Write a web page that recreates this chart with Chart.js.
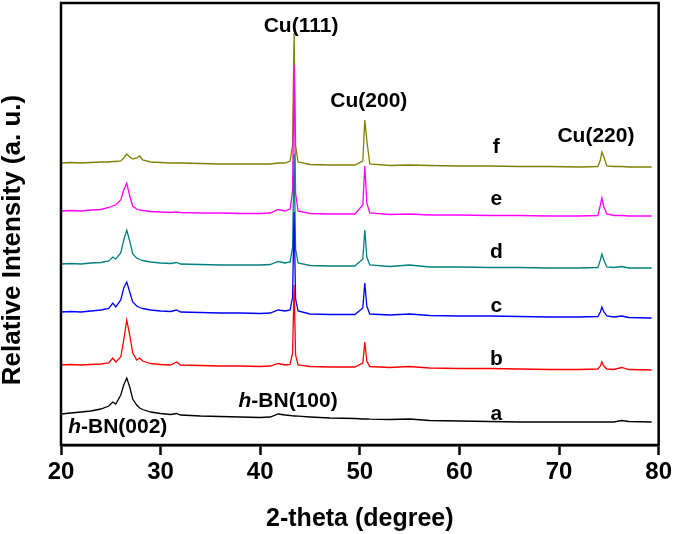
<!DOCTYPE html>
<html>
<head>
<meta charset="utf-8">
<script src="https://cdn.jsdelivr.net/npm/chart.js@4.4.0/dist/chart.umd.min.js"></script>
<style>
  html, body { margin: 0; padding: 0; background: #fff; }
  canvas { display: block; }
</style>
</head>
<body>
<canvas id="xrd" width="675" height="534"></canvas>
<script>
// 2-theta grid shared by all patterns
const twoTheta = [20, 21, 22, 23, 24, 24.8, 25.2, 25.5, 26.0, 26.3,
    26.6, 26.9, 27.2, 27.6, 27.9, 28.2, 29, 30, 31, 31.6,
    32, 34, 36, 38, 40, 41, 41.8, 42.5,
    43.0, 43.25, 43.4, 43.55, 43.8,
    45, 47, 49.5,
    50.3, 50.5, 50.7, 51.0,
    53, 55, 57, 60, 63, 66, 69,
    72, 73.9, 74.15, 74.3, 74.5, 74.8,
    75.5, 76.3, 77, 79.3];

// stacked intensities (offset already included), arbitrary units
const intensityA = [31, 32, 33, 34, 36, 39, 43, 41, 50, 60,
    67, 58, 46, 40, 37, 35.5, 33, 31.5, 30.5, 31.5,
    30, 29, 28.5, 28, 27.5, 28, 31, 30,
    29.5, 29.2, 29, 29, 28.8,
    28, 27, 26.5,
    26, 26, 26, 25.8,
    25.5, 26, 24.5, 24, 23.5, 23, 23,
    23, 23, 23, 23, 23, 23,
    23, 24.5, 23.5, 23];
const intensityB = [80, 80.5, 80, 80.5, 81, 82, 87, 83, 88, 105,
    125, 110, 92, 85, 87, 84, 81.5, 80.5, 80, 83,
    80, 79.5, 79, 79, 78.5, 79, 81.5, 80,
    80.5, 92, 160, 90, 80,
    78.5, 78, 78,
    82, 103, 84, 78.5,
    77.5, 78.5, 77, 76.5, 76.5, 76, 75.5,
    75.5, 76, 79, 83, 79, 76,
    75.5, 77.5, 75.5, 75];
const intensityC = [133, 133.5, 133, 134, 135, 136.5, 142, 138, 145, 157,
    163, 153, 143, 139, 137.5, 136.5, 135, 134, 133.5, 135,
    133, 132.5, 132, 132, 131.5, 132, 135, 134,
    135, 148, 233, 146, 134,
    131, 130.5, 130.5,
    137, 162, 139, 131,
    130, 131, 129.5, 129, 129, 128.5, 128,
    128, 128.5, 133, 138, 133, 129,
    128, 129, 127.5, 127];
const intensityD = [181, 181.5, 181, 182, 182.5, 184, 188, 186, 192, 205,
    215, 204, 191, 187, 185.5, 184.5, 183, 182, 181.5, 182.5,
    181, 180.5, 180, 180, 180, 180.5, 183.5, 182,
    183, 198, 291, 196, 182,
    179.5, 179, 179,
    186, 215, 188, 180,
    178.5, 180, 178, 178, 177.5, 177.5, 177,
    177, 177.5, 185, 191, 185, 178,
    177.5, 178.5, 177, 177];
const intensityE = [234, 234.5, 234, 235, 235.5, 237.5, 239, 240, 245, 255,
    262, 249, 239, 236, 235, 234.5, 233.5, 233, 232.5, 233,
    232.5, 232, 232, 231.5, 231.5, 232, 235.5, 234,
    236, 255, 380, 252, 234,
    231.5, 231, 231,
    240, 279, 242, 232,
    230.5, 231, 230, 230, 229.5, 229.5, 229,
    229, 229.5, 240, 247, 238, 231,
    229.5, 229.5, 229, 229];
const intensityF = [282, 282.5, 282, 282.5, 283, 283, 283.5, 283.5, 284, 287,
    291, 288, 286, 287, 289, 285, 283, 282.5, 282, 282,
    282, 281.5, 281, 281, 281, 281, 282, 282,
    284, 300, 412, 300, 283,
    280.5, 280, 280,
    284, 325, 305, 281,
    279.5, 280, 279.5, 279, 279, 278.5, 278.5,
    278, 278.5, 285, 293, 288, 279,
    278.5, 278.5, 278, 278];

const seriesLetters = ['a', 'b', 'c', 'd', 'e', 'f'];
const seriesColors = ['#000000', '#ff0000', '#0000ff', '#008080', '#ff00ff', '#808000'];
const letterX = 63.7;
const letterY = [25, 80, 133, 187, 240, 292];

const peakNames = ['Cu(111)', 'Cu(200)', 'Cu(220)', 'h-BN(100)', 'h-BN(002)'];
const peakNameX = [44.1, 50.9, 73.7, 42.8, 25.7];
const peakNameY = [413, 338, 303, 38, 12];

const xTickValues = [20, 30, 40, 50, 60, 70, 80];

const FONT = "'Liberation Sans', Arial, Helvetica, sans-serif";
const allIntensities = [intensityA, intensityB, intensityC, intensityD, intensityE, intensityF];

const labelsPlugin = {
    id: 'xrdLabels',
    afterDraw(chart) {
        const { ctx, chartArea, scales } = chart;
        const x = scales.x;
        const y = scales.y;

        ctx.save();
        // box frame
        ctx.strokeStyle = '#000';
        ctx.lineWidth = 2.5;
        ctx.strokeRect(chartArea.left, chartArea.top, chartArea.right - chartArea.left, chartArea.bottom - chartArea.top);

        ctx.fillStyle = '#000';
        ctx.textBaseline = 'alphabetic';
        ctx.textAlign = 'left';
        const bold = `bold 21px ${FONT}`;
        const italic = `italic bold 21px ${FONT}`;

        seriesLetters.forEach((letter, i) => {
            ctx.font = bold;
            const w = ctx.measureText(letter).width;
            ctx.fillText(letter, x.getPixelForValue(letterX) - w / 2, y.getPixelForValue(letterY[i]));
        });

        peakNames.forEach((name, i) => {
            const px = x.getPixelForValue(peakNameX[i]);
            const py = y.getPixelForValue(peakNameY[i]);
            if (name.startsWith('h-')) {
                const rest = name.slice(1);
                ctx.font = italic;
                const wh = ctx.measureText('h').width;
                ctx.font = bold;
                const wr = ctx.measureText(rest).width;
                const left = px - (wh + wr) / 2;
                ctx.font = italic;
                ctx.fillText('h', left, py);
                ctx.font = bold;
                ctx.fillText(rest, left + wh, py);
            } else {
                ctx.font = bold;
                const w = ctx.measureText(name).width;
                ctx.fillText(name, px - w / 2, py);
            }
        });

        // y axis title
        ctx.translate(13, (chartArea.top + chartArea.bottom) / 2 + 16);
        ctx.rotate(-Math.PI / 2);
        ctx.font = `bold 26px ${FONT}`;
        ctx.textAlign = 'center';
        ctx.textBaseline = 'middle';
        ctx.fillText('Relative Intensity (a. u.)', 0, 0);
        ctx.restore();
    },
};

new Chart(document.getElementById('xrd'), {
    type: 'line',
    data: {
        datasets: allIntensities.map((vals, i) => ({
            label: seriesLetters[i],
            data: twoTheta.map((t, k) => ({ x: t, y: vals[k] })),
            borderColor: seriesColors[i],
            borderWidth: 1.3,
            pointRadius: 0,
            tension: 0,
            fill: false,
        })),
    },
    options: {
        responsive: false,
        animation: false,
        devicePixelRatio: 1,
        events: [],
        layout: {
            padding: { left: 61, right: 14, top: 3, bottom: 0 },
        },
        scales: {
            x: {
                type: 'linear',
                min: 20,
                max: 80,
                afterBuildTicks(scale) {
                    scale.ticks = xTickValues.map((v) => ({ value: v }));
                },
                afterFit(scale) {
                    scale.height = 89;
                },
                ticks: {
                    color: '#000',
                    padding: 3,
                    maxRotation: 0,
                    font: { family: FONT, size: 24, weight: 'bold' },
                },
                grid: {
                    drawOnChartArea: false,
                    drawTicks: true,
                    tickLength: 10,
                    tickWidth: 2.5,
                    tickColor: '#000',
                },
                border: { display: true, color: '#000', width: 2.5 },
                title: {
                    display: true,
                    text: '2-theta (degree)',
                    color: '#000',
                    font: { family: FONT, size: 25, weight: 'bold' },
                    padding: { top: 0, bottom: 0 },
                },
            },
            y: {
                display: false,
                min: 0,
                max: 442,
            },
        },
        plugins: {
            legend: { display: false },
            tooltip: { enabled: false },
        },
    },
    plugins: [labelsPlugin],
});
</script>
</body>
</html>
